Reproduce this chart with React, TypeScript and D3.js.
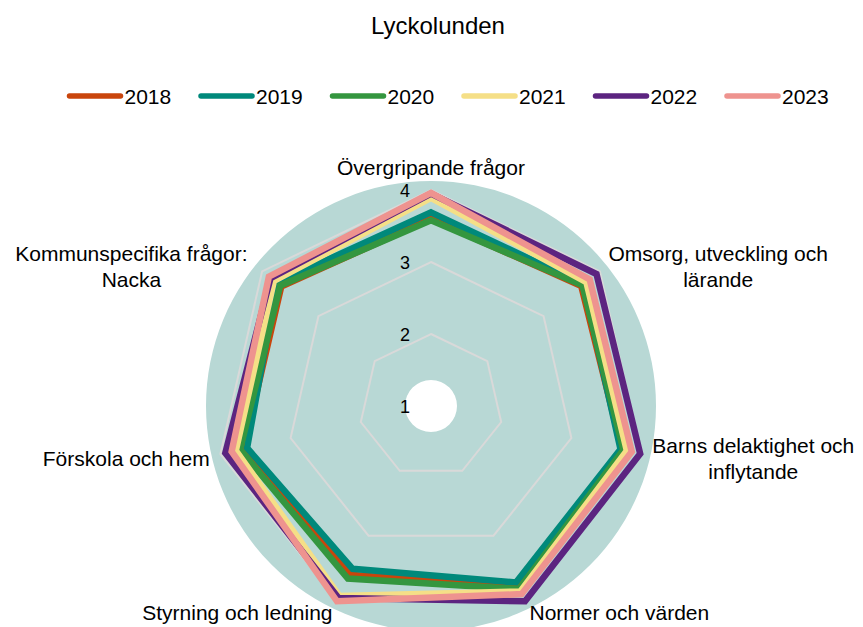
import { useEffect, useRef } from "react";
import * as d3 from "d3";

// chart data
const title = "Lyckolunden";
const categories = [
  ["Övergripande frågor"],
  ["Omsorg, utveckling och", "lärande"],
  ["Barns delaktighet och", "inflytande"],
  ["Normer och värden"],
  ["Styrning och ledning"],
  ["Förskola och hem"],
  ["Kommunspecifika frågor:", "Nacka"],
];
const years = ["2018", "2019", "2020", "2021", "2022", "2023"];
const values2018 = [3.6, 3.67, 3.72, 3.79, 3.6, 3.67, 3.66];
const values2019 = [3.69, 3.71, 3.7, 3.72, 3.51, 3.62, 3.74];
const values2020 = [3.58, 3.69, 3.74, 3.82, 3.66, 3.72, 3.68];
const values2021 = [3.89, 3.76, 3.79, 3.86, 3.93, 3.78, 3.79];
const values2022 = [3.95, 3.94, 3.98, 4.01, 3.96, 3.93, 3.85];
const values2023 = [3.96, 3.82, 3.86, 3.9, 4.01, 3.84, 3.88];
const tickValues = [1, 2, 3, 4];
const colors = ["#c9450c", "#00897b", "#34963f", "#f5df87", "#5c2480", "#ee938f"];

const seriesValues = [values2018, values2019, values2020, values2021, values2022, values2023];

const FONT = "'Liberation Sans', Arial, sans-serif";

const App = () => {
  const svgRef = useRef<SVGSVGElement>(null);

  useEffect(() => {
    const width = 863;
    const height = 627;
    const cx = 431;
    const cy = 406;

    d3.select(svgRef.current).selectAll("*").remove();

    const svg = d3
      .select(svgRef.current)
      .attr("width", width)
      .attr("height", height)
      .style("font-family", FONT);

    const r = d3.scaleLinear().domain([1, 4]).range([0, 216]);
    const angle = d3
      .scaleLinear()
      .domain([0, categories.length])
      .range([0, 2 * Math.PI]);

    const g = svg.append("g").attr("transform", `translate(${cx},${cy})`);

    // background disc with hole
    g.append("path")
      .attr("d", d3.arc()({ innerRadius: 26, outerRadius: 225, startAngle: 0, endAngle: 2 * Math.PI }) as string)
      .attr("fill", "#b8d8d5");

    // grid rings
    const ring = d3
      .lineRadial<number>()
      .angle((_, i) => angle(i))
      .radius((d) => r(d))
      .curve(d3.curveLinearClosed);

    g.selectAll(".ring")
      .data(tickValues.filter((t) => t > 1))
      .enter()
      .append("path")
      .attr("d", (t) => ring(categories.map(() => t)))
      .attr("fill", "none")
      .attr("stroke", "#d9d9d9")
      .attr("stroke-width", 2);

    // series
    g.selectAll(".series")
      .data(seriesValues)
      .enter()
      .append("path")
      .attr("d", (d) => ring(d))
      .attr("fill", "none")
      .attr("stroke", (_, i) => colors[i])
      .attr("stroke-width", 6.5)
      .attr("stroke-linejoin", "miter");

    // tick labels
    g.selectAll(".tick")
      .data(tickValues)
      .enter()
      .append("text")
      .attr("x", -21)
      .attr("y", (t) => -r(t) + 1)
      .attr("text-anchor", "end")
      .attr("dominant-baseline", "central")
      .attr("font-size", 18)
      .attr("fill", "#000")
      .text((t) => t);

    // category labels
    categories.forEach((lines, i) => {
      const a = angle(i);
      const sin = Math.sin(a);
      const cos = Math.cos(a);
      const R = 227;
      const px = R * sin;
      const py = -R * cos;
      const t = g
        .append("text")
        .attr("font-size", 21)
        .attr("text-anchor", "middle")
        .attr("fill", "#000");
      lines.forEach((line, j) => {
        t.append("tspan").attr("x", 0).attr("y", j * 26).text(line);
      });
      const box = (t.node() as SVGTextElement).getBBox();
      let tx = px;
      if (sin > 0.1) tx = px + box.width / 2;
      else if (sin < -0.1) tx = px - box.width / 2 - (lines.length > 1 ? 6 : 0);
      let ty = py - (box.y + box.height / 2) + 2;
      if (cos > 0.9) ty = py - (box.y + box.height);
      t.attr("transform", `translate(${tx},${ty})`);
    });

    // title
    svg
      .append("text")
      .attr("x", 438)
      .attr("y", 25)
      .attr("text-anchor", "middle")
      .attr("dominant-baseline", "central")
      .attr("font-size", 24)
      .attr("fill", "#000")
      .text(title);

    // legend
    const legend = svg
      .append("g")
      .selectAll("g")
      .data(years)
      .enter()
      .append("g")
      .attr("transform", (_, i) => `translate(${67.5 + i * 131.5},96)`);

    legend
      .append("line")
      .attr("x1", 2)
      .attr("x2", 53)
      .attr("stroke", (_, i) => colors[i])
      .attr("stroke-width", 5.5)
      .attr("stroke-linecap", "round");

    legend
      .append("text")
      .attr("x", 57)
      .attr("dominant-baseline", "central")
      .attr("font-size", 21)
      .attr("fill", "#000")
      .text((d) => d);
  }, []);

  return (
    <div style={{ position: "absolute", left: 0, top: 0 }}>
      <svg ref={svgRef}></svg>
    </div>
  );
};

export default App;
